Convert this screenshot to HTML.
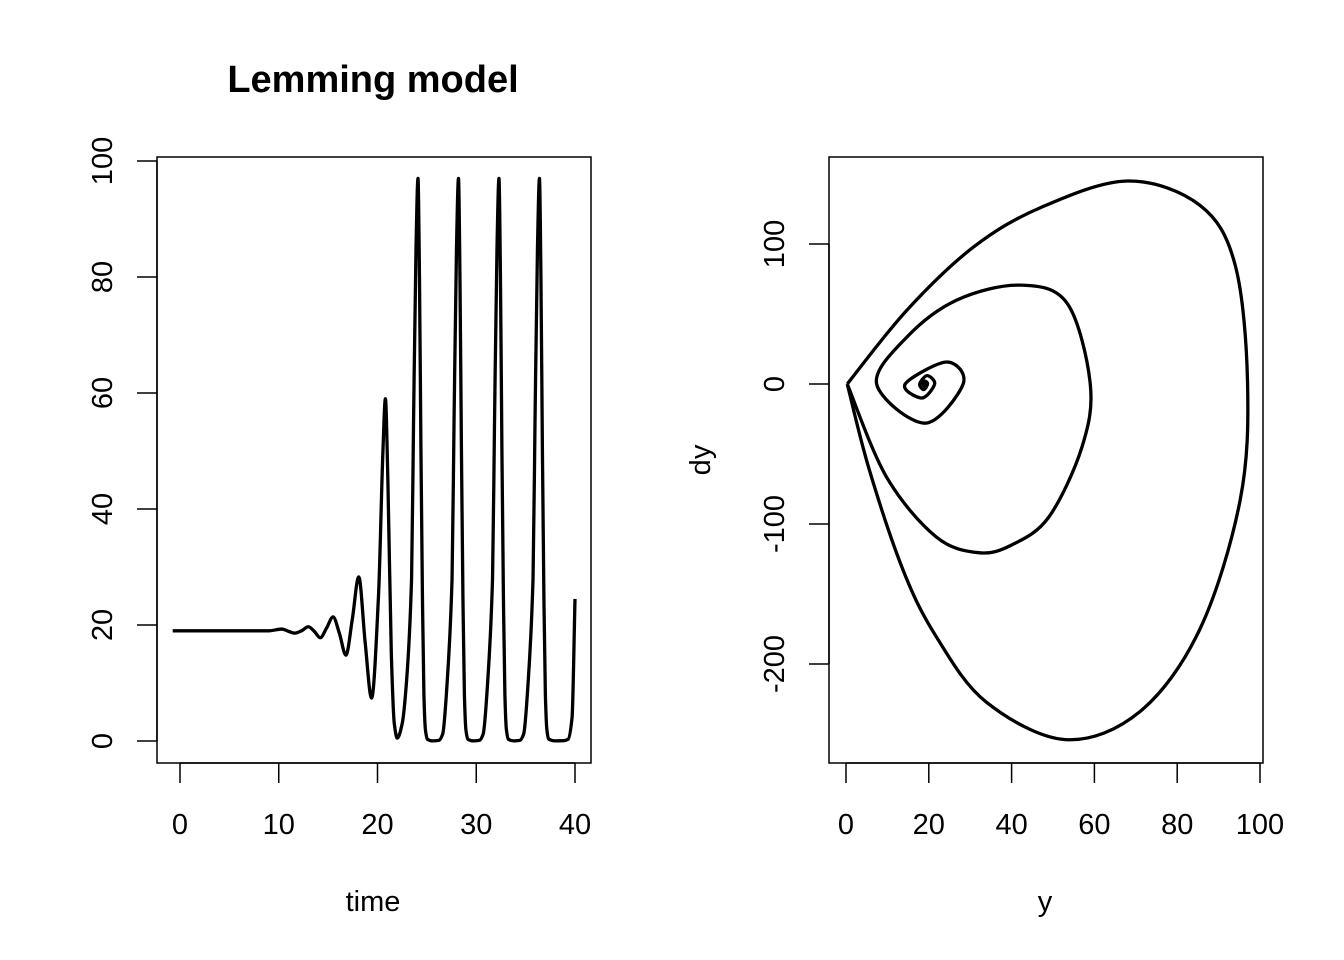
<!DOCTYPE html>
<html><head><meta charset="utf-8"><style>
html,body{margin:0;padding:0;background:#fff}
svg{display:block}
text{font-family:"Liberation Sans",Arial,sans-serif;fill:#000}
</style></head><body>
<svg id="chart" width="1344" height="960" viewBox="0 0 1344 960" xmlns="http://www.w3.org/2000/svg">
<rect width="1344" height="960" fill="#fff"/>
<text x="373" y="92" font-size="38" font-weight="bold" text-anchor="middle">Lemming model</text>
<rect x="157" y="157" width="434" height="606" fill="none" stroke="#000" stroke-width="1.5"/>
<rect x="829" y="157" width="434" height="606" fill="none" stroke="#000" stroke-width="1.5"/>
<text x="373" y="911" font-size="29" text-anchor="middle">time</text>
<text x="1045" y="911" font-size="29" text-anchor="middle">y</text>
<text transform="translate(710,460) rotate(-90)" font-size="29" text-anchor="middle">dy</text>
<g id="axes"></g>
<g id="series"></g>
</svg>
<script>
// Left: time series
const timeVals = [-0.74,9,10.3,11.0,11.6,12.3,13.0,13.6,14.2,14.85,15.5,16.15,16.8,17.45,18.1,18.75,19.4,20.1,20.55,20.8,21.05,21.4,21.7,22.0,22.5,22.95,23.45,23.65,23.9,24.1,24.25,24.4,24.55,24.7,24.85,
  25.05,25.6,26.2,26.6,27.05,27.55,27.75,28.0,28.2,28.35,28.5,28.65,28.8,28.95,
  29.15,29.7,30.3,30.7,31.15,31.65,31.85,32.1,32.3,32.45,32.6,32.75,32.9,33.05,
  33.25,33.8,34.4,34.8,35.25,35.75,35.95,36.2,36.4,36.55,36.7,36.85,37.0,37.15,
  37.35,38.0,38.8,39.3,39.7,40.0];
const yVals = [19,19,19.3,18.9,18.6,19.0,19.7,18.9,17.8,19.5,21.4,18.5,14.8,21,28.3,17,7.4,25,50,59,45,15,3,0.5,3,10.5,28,55,85,97,80,50,25,8,2,
  0.3,0.02,0.1,1.2,10,28,55,85,97,80,50,25,8,2,
  0.3,0.02,0.1,1.2,10,28,55,85,97,80,50,25,8,2,
  0.3,0.02,0.1,1.2,10,28,55,85,97,80,50,25,8,2,
  0.3,0.02,0.05,0.3,4,24.5];
const leftXTicks = [0,10,20,30,40];
const leftYTicks = [0,20,40,60,80,100];
// Right: phase plane (y, dy) — transient spiral ending at the corner
const phaseY  = [19,19.3,18.95,18.6,19.1,19.7,18.8,17.8,19.6,21.4,18.3,14.3,24.4,28.3,19,7.4,14.7,26.8,42,53.4,59,57,49,40,32,21.7,9.7,0.3];
const phaseDy = [0.3,0,-1.5,0,2,0,-4,0,6,0,-10,0,15.7,0,-28,0,33.5,60,70.6,57.7,0,-45,-95,-115,-120.5,-109,-66,0];
// limit cycle, corner to corner
const outerY  = [0.3,14.7,30.7,47,68,85.5,94,97,95.2,85.5,71,53,33.8,21.7,13.8,5.6,0.3];
const outerDy = [0,52.7,97.6,126,145,127.6,85,0,-83,-175,-234,-254,-227,-180,-133,-61,0];
const outerRepeats = 4;
const rightXTicks = [0,20,40,60,80,100];
const rightYTicks = [-200,-100,0,100];

const lx = v => 180 + v * (575 - 180) / 40;
const ly = v => 741 - v * (741 - 161) / 100;
const rx = v => 846 + v * (1260 - 846) / 100;
const ry = v => 384 - v * (384 - 244) / 100;

const NS = "http://www.w3.org/2000/svg";
const axes = document.getElementById('axes');
const series = document.getElementById('series');
function mk(tag, attrs, parent){const e=document.createElementNS(NS,tag);for(const k in attrs)e.setAttribute(k,attrs[k]);parent.appendChild(e);return e;}

function xAxis(ticks, sx, pfx){
  const l = mk('line',{x1:sx(ticks[0]),x2:sx(ticks[ticks.length-1]),y1:763,y2:763,stroke:'#000','stroke-width':1.5},axes);
  
  
  ticks.forEach(t=>{
    const tk = mk('line',{x1:sx(t),x2:sx(t),y1:763,y2:783,stroke:'#000','stroke-width':1.5},axes);
    
    
    const tx = mk('text',{x:sx(t),y:834,'font-size':29,'text-anchor':'middle'},axes);
    tx.textContent = t;
    
    
  });
}
function yAxis(ticks, sy, x0, labx, pfx){
  const l = mk('line',{x1:x0,x2:x0,y1:sy(ticks[0]),y2:sy(ticks[ticks.length-1]),stroke:'#000','stroke-width':1.5},axes);
  
  
  ticks.forEach(t=>{
    const tk = mk('line',{x1:x0-20,x2:x0,y1:sy(t),y2:sy(t),stroke:'#000','stroke-width':1.5},axes);
    
    
    const tx = mk('text',{transform:`translate(${labx},${sy(t)}) rotate(-90)`,'font-size':29,'text-anchor':'middle'},axes);
    tx.textContent = t < 0 ? '-' + Math.abs(t) : t;
    
    
  });
}
xAxis(leftXTicks, lx, 'left');
yAxis(leftYTicks, ly, 157, 112, 'left');
xAxis(rightXTicks, rx, 'right');
yAxis(rightYTicks, ry, 829, 784, 'right');

function monotonePath(xs, ys){
  const n = Math.min(xs.length, ys.length), d = [], m = new Array(n);
  for(let i=0;i<n-1;i++) d.push((ys[i+1]-ys[i])/(xs[i+1]-xs[i]));
  m[0]=d[0]; m[n-1]=d[n-2];
  for(let i=1;i<n-1;i++){ m[i] = (d[i-1]*d[i] <= 0) ? 0 : 2/(1/d[i-1]+1/d[i]); }
  let p = `M${lx(xs[0])},${ly(ys[0])}`;
  for(let i=0;i<n-1;i++){
    const h = xs[i+1]-xs[i];
    p += ` C${lx(xs[i]+h/3)},${ly(ys[i]+m[i]*h/3)} ${lx(xs[i+1]-h/3)},${ly(ys[i+1]-m[i+1]*h/3)} ${lx(xs[i+1])},${ly(ys[i+1])}`;
  }
  return p;
}
const tsPath = mk('path',{d:monotonePath(timeVals,yVals),fill:'none',stroke:'#000','stroke-width':3.3,'stroke-linejoin':'round'},series);



function crPath(pts){
  let p = `M${pts[0][0]},${pts[0][1]}`;
  for(let i=0;i<pts.length-1;i++){
    const p0 = pts[Math.max(0,i-1)], p1=pts[i], p2=pts[i+1], p3=pts[Math.min(pts.length-1,i+2)];
    const c1=[p1[0]+(p2[0]-p0[0])/6, p1[1]+(p2[1]-p0[1])/6];
    const c2=[p2[0]-(p3[0]-p1[0])/6, p2[1]-(p3[1]-p1[1])/6];
    p += ` C${c1[0]},${c1[1]} ${c2[0]},${c2[1]} ${p2[0]},${p2[1]}`;
  }
  return p;
}
let d = crPath(phaseY.map((v,i)=>[rx(v), ry(phaseDy[i])]));
const outerPts = outerY.map((v,i)=>[rx(v), ry(outerDy[i])]);
for(let r=0;r<outerRepeats;r++) d += ' ' + crPath(outerPts);
const phPath = mk('path',{d:d,fill:'none',stroke:'#000','stroke-width':3.3,'stroke-linejoin':'round'},series);


const dot = mk('circle',{cx:rx(phaseY[0]),cy:ry(phaseDy[0]),r:3.5,fill:'#000'},series);


</script>
</body></html>
